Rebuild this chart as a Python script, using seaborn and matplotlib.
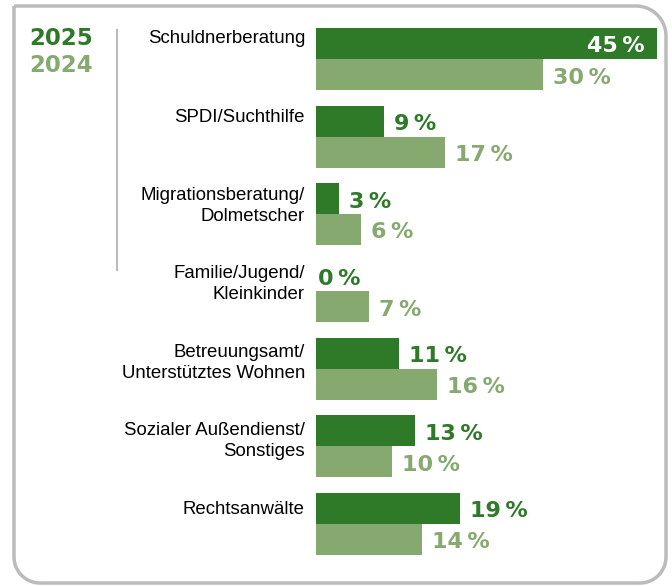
import numpy as np
import pandas as pd
import matplotlib.pyplot as plt
import seaborn as sns
from matplotlib.lines import Line2D
from matplotlib.patches import PathPatch
from matplotlib.path import Path

# Daten (Anteile in %)
categories = ["Schuldnerberatung", "SPDI/Suchthilfe", "Migrationsberatung/\nDolmetscher",
              "Familie/Jugend/\nKleinkinder", "Betreuungsamt/\nUnterstütztes Wohnen",
              "Sozialer Außendienst/\nSonstiges", "Rechtsanwälte"]
values_2025 = [45, 9, 3, 0, 11, 13, 19]
values_2024 = [30, 17, 6, 7, 16, 10, 14]
years = ["2025", "2024"]
colors = {"2025": "#2e7a28", "2024": "#86a96f"}

df = pd.DataFrame({
    "Bereich": categories * 2,
    "Anteil": values_2025 + values_2024,
    "Jahr": [years[0]] * len(categories) + [years[1]] * len(categories),
})

W, H = 672, 586
fig = plt.figure(figsize=(W / 100, H / 100), dpi=100)
step = 77.5
ax = fig.add_axes([316 / W, 1 - (28 + 6.8 * step) / H, 341 / W, 6.8 * step / H])

sns.barplot(data=df, y="Bereich", x="Anteil", hue="Jahr", hue_order=years,
            orient="h", palette=colors, width=0.8, saturation=1, legend=False, ax=ax)
ax.set_xlim(0, 45)
ax.set_ylim(6.4, -0.4)
ax.axis("off")

val_font = dict(family="DejaVu Sans", weight="bold", size=16)
ytr = ax.get_yaxis_transform()
for i, cat in enumerate(categories):
    # Kategorie-Beschriftung links (rutscht nach unten leicht ab)
    ax.annotate(cat, xy=(0, i - 0.4), xycoords=ytr, xytext=(-11, -2 - 1.0 * i),
                textcoords="offset pixels", ha="right", va="top",
                family="Liberation Sans", size=13.4, linespacing=1.3)
    for v, dy, yr in [(values_2025[i], -0.2, "2025"), (values_2024[i], 0.2, "2024")]:
        txt = f"{v}\u2009%"
        if v >= 40:
            ax.annotate(txt, xy=(v, i + dy), xytext=(-12, -3), textcoords="offset pixels",
                        ha="right", va="center", color="white", **val_font)
        else:
            ax.annotate(txt, xy=(v, i + dy), xytext=(10 if v > 0 else 2, -3),
                        textcoords="offset pixels", ha="left", va="center",
                        color=colors[yr], **val_font)

# Legende oben links
fig.text(29 / W, 1 - 27 / H, "2025", ha="left", va="top", color=colors["2025"],
         family="DejaVu Sans", weight="bold", size=16.5)
fig.text(29 / W, 1 - 54 / H, "2024", ha="left", va="top", color=colors["2024"],
         family="DejaVu Sans", weight="bold", size=16.5)
fig.add_artist(Line2D([117 / W, 117 / W], [1 - 30 / H, 1 - 270 / H],
                      color="#bbbbbb", lw=1.5, transform=fig.transFigure))

# Rahmen mit abgerundeten Ecken (oben links eckig)
def arc(cx, cy, r, a0, a1):
    t = np.radians(np.linspace(a0, a1, 20))
    return list(zip(cx + r * np.cos(t), cy - r * np.sin(t)))

L, T, R, B = 14, 6, 666, 583
rt, rb = 30, 26
pts = [(L, T), (R - rt, T)]
pts += arc(R - rt, T + rt, rt, 90, 0)
pts += [(R, B - rb)]
pts += arc(R - rb, B - rb, rb, 0, -90)
pts += [(L + rb, B)]
pts += arc(L + rb, B - rb, rb, -90, -180)
pts += [(L, T)]
pts = [(x / W, 1 - y / H) for x, y in pts]
fig.add_artist(PathPatch(Path(pts), facecolor="none", edgecolor="#bbbbbb", lw=2.5,
                         transform=fig.transFigure))

fig.savefig("out.png", dpi=100)
